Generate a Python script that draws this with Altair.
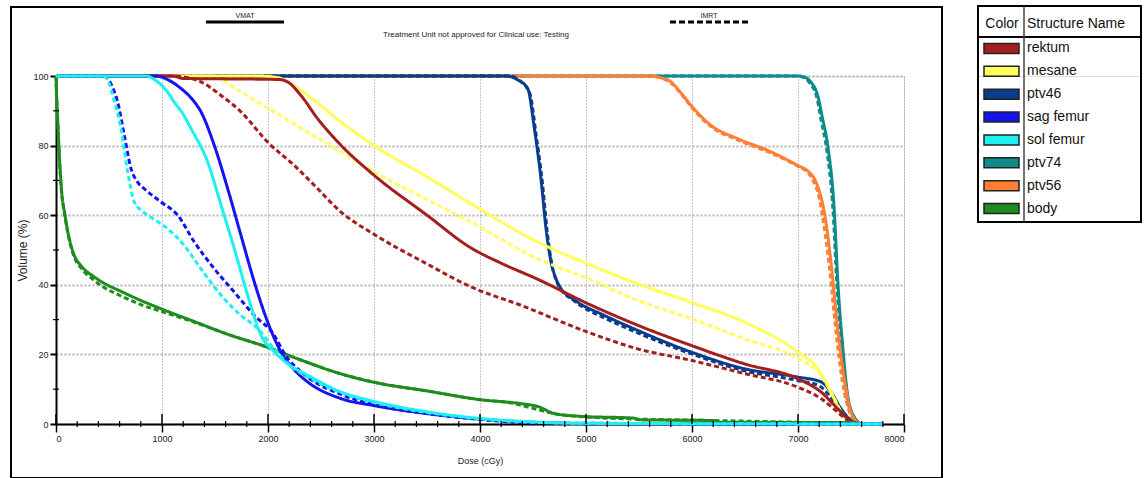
import altair as alt
import pandas as pd

structures = ["rektum", "mesane", "ptv46", "sag femur", "sol femur", "ptv74", "ptv56", "body"]
colors = ["#A31F1F", "#FFFF5A", "#0B3C8C", "#1414F0", "#1EF0F0", "#0E8A8A", "#FF7F35", "#1E8C1E"]
draw_order = ["ptv74", "ptv56", "ptv46", "mesane", "rektum", "body", "sag femur", "sol femur"]
plans = ["VMAT", "IMRT"]
title_text = "Treatment Unit not approved for Clinical use: Testing"

x_ticks = [0, 1000, 2000, 3000, 4000, 5000, 6000, 7000, 8000]
x_minor = [200, 400, 600, 800, 1200, 1400, 1600, 1800, 2200, 2400, 2600, 2800,
           3200, 3400, 3600, 3800, 4200, 4400, 4600, 4800, 5200, 5400, 5600, 5800,
           6200, 6400, 6600, 6800, 7200, 7400, 7600, 7800]
y_ticks = [0, 20, 40, 60, 80, 100]
y_minor = [10, 30, 50, 70, 90]

# ---- VMAT (solid) ----
rektum_vmat_dose = [0, 1100, 1200, 1500, 2100, 2185, 2311, 2469, 2689, 3000, 3500, 3915, 4200, 4544, 5016, 5487, 5990, 6494, 6997, 7217, 7374, 7469, 7550]
rektum_vmat_vol = [100, 100, 99.3, 99.2, 99, 98.3, 94.4, 87.7, 80.1, 71.5, 60, 50.6, 46.2, 41.6, 34.6, 28.4, 22.6, 17.3, 13, 9.2, 4.4, 1.5, 0]
mesane_vmat_dose = [0, 1900, 2100, 2185, 2374, 2689, 3000, 3500, 3915, 4544, 5016, 5487, 5990, 6494, 6997, 7186, 7311, 7405, 7500, 7560]
mesane_vmat_vol = [100, 100, 99.5, 98.3, 94.4, 86.8, 80, 71, 63.3, 52.3, 46, 40.3, 35, 29.3, 20.7, 15.9, 9.2, 3.4, 0.5, 0]
ptv46_vmat_dose = [0, 4250, 4350, 4450, 4513, 4575, 4623, 4670, 4720, 4764, 4850, 4921, 5173, 5487, 5990, 6494, 6997, 7217, 7311, 7406, 7500, 7560]
ptv46_vmat_vol = [100, 100, 99, 96.4, 84.9, 70.5, 56.1, 46.6, 41.5, 38.9, 36.5, 35, 31.2, 26.9, 20.7, 15.9, 13.5, 12.1, 9.2, 4.4, 1, 0]
sag_vmat_dose = [0, 950, 1050, 1180, 1280, 1368, 1494, 1620, 1745, 1871, 1997, 2123, 2250, 2374, 2689, 3000, 3500, 4000, 4500, 5000, 7800]
sag_vmat_vol = [100, 100, 99, 96.4, 93.5, 89.7, 80, 67.6, 54.2, 40.8, 29.3, 20.7, 15.5, 12.1, 7.3, 5.3, 3, 1.4, 0.5, 0.1, 0]
sol_vmat_dose = [0, 850, 950, 1050, 1116, 1200, 1274, 1431, 1557, 1682, 1808, 1934, 2060, 2200, 2374, 2689, 3000, 3500, 4000, 4500, 5000, 6000, 7800]
sol_vmat_vol = [100, 100, 98.5, 95.5, 92.5, 89, 84.9, 75.3, 62.9, 50.4, 37, 25.5, 20.7, 17, 14, 9.2, 6.5, 3.5, 1.6, 0.6, 0.2, 0.1, 0]
ptv74_vmat_dose = [0, 7000, 7060, 7120, 7186, 7230, 7280, 7343, 7374, 7421, 7469, 7531, 7600]
ptv74_vmat_vol = [100, 100, 99.7, 98.3, 94.4, 88, 80.1, 60.9, 41.8, 22.6, 8.2, 2, 0]
ptv56_vmat_dose = [0, 5600, 5700, 5802, 5900, 5990, 6179, 6431, 6745, 6997, 7100, 7154, 7200, 7248, 7311, 7374, 7437, 7500, 7580]
ptv56_vmat_vol = [100, 100, 99.5, 98.3, 95, 91.6, 85.8, 82, 78.2, 74.3, 72.5, 70.5, 67, 60.9, 46.6, 27.4, 13, 3.4, 0]
body_vmat_dose = [0, 5, 15, 30, 50, 85, 120, 160, 250, 350, 450, 600, 800, 1000, 1300, 1600, 2000, 2300, 2700, 3000, 3500, 4000, 4400, 4550, 4700, 4950, 5450, 5500, 6200, 6250, 7500, 7600]
body_vmat_vol = [100, 95, 88, 78, 68, 60, 54, 49.5, 45, 42.5, 40.5, 38.3, 35.5, 33, 29.5, 26, 22, 18.5, 14.3, 12, 9.5, 7, 5.8, 5, 3, 2.2, 1.7, 1.2, 1.0, 0.5, 0.4, 0]

# ---- IMRT (dashed) ----
rektum_imrt_dose = [0, 1100, 1250, 1368, 1557, 1745, 1997, 2248, 2437, 2689, 3000, 3500, 3915, 4387, 5016, 5487, 5990, 6494, 6997, 7217, 7374, 7469, 7550]
rektum_imrt_vol = [100, 100, 99.5, 98.3, 94.4, 89.7, 81, 74.3, 68.6, 60.9, 54.5, 46, 39.4, 34.1, 26.4, 21.6, 18.3, 14.5, 10.6, 7.3, 3.4, 1, 0]
mesane_imrt_dose = [0, 1450, 1550, 1745, 2059, 2374, 2689, 3000, 3500, 3915, 4544, 5016, 5487, 5990, 6494, 6997, 7217, 7343, 7437, 7550]
mesane_imrt_vol = [100, 100, 99, 95.4, 89.7, 83.9, 78.2, 72.5, 64.5, 58, 47.5, 41.8, 35.5, 30.3, 24.5, 18.8, 14, 7.3, 2, 0]
ptv46_imrt_dose = [0, 4280, 4380, 4470, 4530, 4590, 4635, 4680, 4730, 4780, 4870, 4940, 5173, 5487, 5990, 6494, 6997, 7200, 7300, 7400, 7490, 7560]
ptv46_imrt_vol = [100, 100, 98.5, 95, 83, 69, 55, 45.5, 40.5, 38, 35.8, 34.2, 30.5, 26.2, 20.2, 15.3, 12.5, 11, 8, 3.8, 0.8, 0]
sag_imrt_dose = [0, 450, 530, 582, 644, 708, 770, 833, 990, 1148, 1305, 1494, 1682, 1871, 2059, 2150, 2374, 2689, 3000, 3500, 4000, 4300, 4500, 7800]
sag_imrt_vol = [100, 100, 97, 92.5, 83, 73.4, 69.5, 67.6, 63.8, 60, 52.3, 44.6, 37.9, 31.2, 25.5, 20.5, 13.5, 8.5, 5.5, 3, 1.3, 0.6, 0.3, 0]
sol_imrt_dose = [0, 450, 500, 535, 613, 676, 739, 800, 865, 1054, 1210, 1368, 1557, 1745, 1903, 2059, 2200, 2374, 2689, 3000, 3500, 4000, 4500, 5000, 7800]
sol_imrt_vol = [100, 100, 98, 94.4, 84.9, 72.4, 63.8, 61.5, 60, 56.1, 51.3, 44.6, 37, 31.2, 27.4, 21.6, 17, 13.5, 9, 6.2, 3.3, 1.5, 0.5, 0.2, 0]
ptv74_imrt_dose = [0, 6990, 7050, 7110, 7176, 7220, 7270, 7333, 7365, 7412, 7460, 7525, 7600]
ptv74_imrt_vol = [100, 100, 99.6, 98, 94, 87, 79, 60, 41, 22, 8, 2, 0]
ptv56_imrt_dose = [0, 5620, 5720, 5820, 5920, 6010, 6190, 6440, 6750, 7000, 7100, 7150, 7200, 7240, 7300, 7360, 7420, 7490, 7570]
ptv56_imrt_vol = [100, 100, 99.3, 97.5, 94, 90.5, 85.2, 81.5, 77.8, 74, 72, 69.5, 65, 58, 44, 26, 12, 3, 0]
body_imrt_dose = [0, 5, 15, 30, 50, 85, 120, 160, 250, 350, 450, 600, 800, 1000, 1300, 1600, 2000, 2300, 2700, 3000, 3500, 4000, 4300, 4500, 4700, 5000, 5400, 6200, 7000, 7600]
body_imrt_vol = [100, 94.5, 87.5, 77.5, 67.5, 59.5, 53.5, 49, 44.3, 41.5, 39.3, 37, 34.3, 32.3, 29.3, 26, 22, 18.5, 14.3, 12, 9.5, 7, 6, 4.5, 3, 2, 1.5, 1, 0.5, 0]

series = {
    ("rektum", "VMAT"): (rektum_vmat_dose, rektum_vmat_vol),
    ("mesane", "VMAT"): (mesane_vmat_dose, mesane_vmat_vol),
    ("ptv46", "VMAT"): (ptv46_vmat_dose, ptv46_vmat_vol),
    ("sag femur", "VMAT"): (sag_vmat_dose, sag_vmat_vol),
    ("sol femur", "VMAT"): (sol_vmat_dose, sol_vmat_vol),
    ("ptv74", "VMAT"): (ptv74_vmat_dose, ptv74_vmat_vol),
    ("ptv56", "VMAT"): (ptv56_vmat_dose, ptv56_vmat_vol),
    ("body", "VMAT"): (body_vmat_dose, body_vmat_vol),
    ("rektum", "IMRT"): (rektum_imrt_dose, rektum_imrt_vol),
    ("mesane", "IMRT"): (mesane_imrt_dose, mesane_imrt_vol),
    ("ptv46", "IMRT"): (ptv46_imrt_dose, ptv46_imrt_vol),
    ("sag femur", "IMRT"): (sag_imrt_dose, sag_imrt_vol),
    ("sol femur", "IMRT"): (sol_imrt_dose, sol_imrt_vol),
    ("ptv74", "IMRT"): (ptv74_imrt_dose, ptv74_imrt_vol),
    ("ptv56", "IMRT"): (ptv56_imrt_dose, ptv56_imrt_vol),
    ("body", "IMRT"): (body_imrt_dose, body_imrt_vol),
}

rows = []
for (s, p), (d, v) in series.items():
    for i, (dd, vv) in enumerate(zip(d, v)):
        rows.append({"structure": s, "plan": p, "dose": dd, "vol": vv, "i": i})
df = pd.DataFrame(rows)

FONT = "Liberation Sans, Arial, sans-serif"
W, H = 848, 348

xscale = alt.Scale(domain=[0, 8000], nice=False)
yscale = alt.Scale(domain=[0, 100], nice=False)
x_axis = alt.Axis(values=x_ticks, format="d", title="Dose (cGy)", grid=True, gridDash=[1, 2], gridColor="#8c8c8c",
                  gridWidth=1, domainColor="black", domainWidth=2, tickColor="black", tickWidth=1.5,
                  tickSize=8, labelFontSize=9, labelColor="#222", labelPadding=2, titleFontSize=9,
                  titleFontWeight="normal", titleColor="#222", titlePadding=13, labelFont=FONT, titleFont=FONT)
y_axis = alt.Axis(values=y_ticks, format="d", title="Volume (%)", grid=True, gridDash=[2, 2], gridColor="#b5b5b5",
                  gridWidth=2, domainColor="black", domainWidth=2, tickColor="black", tickWidth=2,
                  tickSize=6, labelFontSize=9, labelColor="#222", labelPadding=2, titleFontSize=12,
                  titleFontWeight="normal", titleColor="#222", titlePadding=3, labelFont=FONT, titleFont=FONT)

color_scale = alt.Scale(domain=structures, range=colors)
dash_scale = alt.Scale(domain=plans, range=[[1, 0], [5, 3]])

layers = []
for s in draw_order:
    layers.append(
        alt.Chart(df).transform_filter(alt.datum.structure == s)
        .mark_line(strokeWidth=3, interpolate="monotone")
        .encode(
            x=alt.X("dose:Q", scale=xscale, axis=x_axis),
            y=alt.Y("vol:Q", scale=yscale, axis=y_axis),
            color=alt.Color("structure:N", scale=color_scale, legend=None),
            strokeDash=alt.StrokeDash("plan:N", scale=dash_scale, legend=None),
            order="i:Q",
        )
    )

minor_x = alt.Chart(pd.DataFrame({"dose": x_minor})).mark_rule(color="black", strokeWidth=1.2).encode(
    x=alt.X("dose:Q", scale=xscale, axis=x_axis), y=alt.value(H - 3), y2=alt.value(H + 3))
major_in = alt.Chart(pd.DataFrame({"dose": x_ticks})).mark_rule(color="black", strokeWidth=1.5).encode(
    x=alt.X("dose:Q", scale=xscale, axis=x_axis), y=alt.value(H - 10), y2=alt.value(H))
minor_y = alt.Chart(pd.DataFrame({"vol": y_minor})).mark_rule(color="black", strokeWidth=1.2).encode(
    y=alt.Y("vol:Q", scale=yscale, axis=y_axis), x=alt.value(-3), x2=alt.value(3))

one = pd.DataFrame({"a": [0]})
frame = alt.Chart(one).mark_rect(filled=False, color="black", strokeWidth=2).encode(
    x=alt.value(-45), x2=alt.value(886), y=alt.value(-69), y2=alt.value(402))
title = alt.Chart(pd.DataFrame({"t": [title_text]})).mark_text(fontSize=8, font=FONT, color="#222").encode(
    x=alt.value(420), y=alt.value(-41), text="t:N")
vmat_txt = alt.Chart(pd.DataFrame({"t": [plans[0]]})).mark_text(fontSize=7, font=FONT, color="#222").encode(
    x=alt.value(189), y=alt.value(-60), text="t:N")
imrt_txt = alt.Chart(pd.DataFrame({"t": [plans[1]]})).mark_text(fontSize=7, font=FONT, color="#222").encode(
    x=alt.value(653), y=alt.value(-60), text="t:N")
vmat_line = alt.Chart(one).mark_rule(color="black", strokeWidth=3).encode(
    x=alt.value(150), x2=alt.value(228), y=alt.value(-54))
imrt_line = alt.Chart(one).mark_rule(color="black", strokeWidth=3, strokeDash=[6, 3]).encode(
    x=alt.value(614), x2=alt.value(692), y=alt.value(-54))

main = alt.layer(frame, title, vmat_txt, imrt_txt, vmat_line, imrt_line, *layers, minor_x, major_in, minor_y).properties(
    width=W, height=H)

# ---- legend table (origin shares the plot area's top, so offsets are negative) ----
LW, TOP, BOT = 163, -70, 146
leg_df = pd.DataFrame({"structure": structures})
yb = alt.Y("structure:N", sort=structures,
           scale=alt.Scale(domain=structures, range=[-39, 144], paddingInner=0, paddingOuter=0), axis=None)
lframe = alt.Chart(one).mark_rect(filled=False, color="black", strokeWidth=2).encode(
    x=alt.value(0), x2=alt.value(LW), y=alt.value(TOP), y2=alt.value(BOT))
sw = alt.Chart(leg_df).mark_rect(height=10, stroke="#222", strokeWidth=1.5).encode(
    y=yb, x=alt.value(6), x2=alt.value(41),
    fill=alt.Color("structure:N", scale=color_scale, legend=None))
names = alt.Chart(leg_df).mark_text(align="left", baseline="middle", fontSize=14, font=FONT, color="#111").encode(
    y=yb, x=alt.value(49), text="structure:N")
h1 = alt.Chart(pd.DataFrame({"h": ["Color"]})).mark_text(align="center", baseline="middle", fontSize=14,
                                                           font=FONT, color="#111").encode(
    x=alt.value(24), y=alt.value(-52), text="h:N")
h2 = alt.Chart(pd.DataFrame({"h": ["Structure Name"]})).mark_text(align="left", baseline="middle", fontSize=14,
                                                                    font=FONT, color="#111").encode(
    x=alt.value(49), y=alt.value(-52), text="h:N")
hr = alt.Chart(one).mark_rule(color="black", strokeWidth=2).encode(x=alt.value(0), x2=alt.value(LW), y=alt.value(-39))
vr = alt.Chart(one).mark_rule(color="#444", strokeWidth=1.5).encode(x=alt.value(46), y=alt.value(TOP), y2=alt.value(BOT))
legend = alt.layer(lframe, hr, vr, sw, names, h1, h2).properties(width=LW, height=BOT)

chart = alt.hconcat(main, legend, spacing=32).properties(
    padding={"left": 9, "top": 4, "right": 0, "bottom": 0}
).configure_view(strokeWidth=0).configure(font=FONT)

chart.save("out.html", embed_options={"renderer": "svg", "actions": False})
